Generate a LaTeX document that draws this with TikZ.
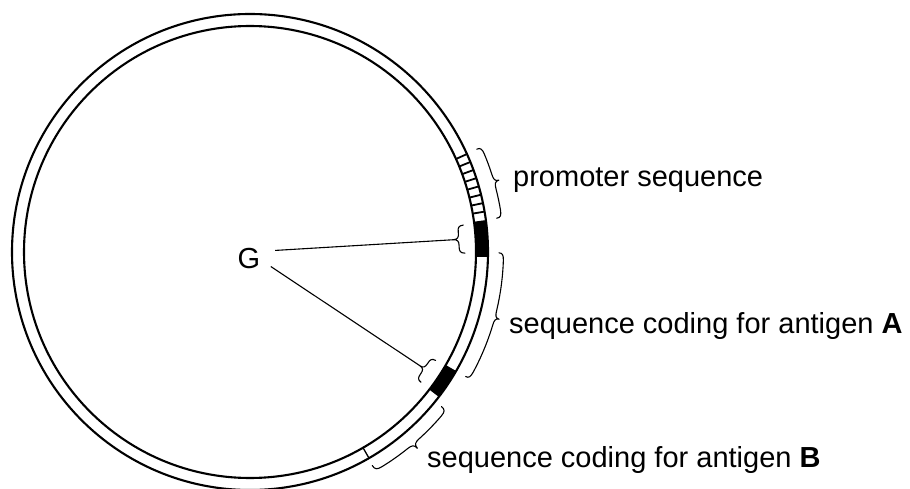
\documentclass[tikz,border=0pt]{standalone}
\usepackage{fontspec}
\setmainfont{Liberation Sans}
\newcommand\arcbrace[5]{%
  \pgfmathsetmacro\brA{#1}%
  \pgfmathsetmacro\brB{#2}%
  \pgfmathsetmacro\brM{(#1+#2)/2}%
  \pgfmathsetmacro\brD{((#2)>(#1) ? 1.7 : -1.7)}%
  \pgfmathsetmacro\brR{#3}%
  \pgfmathsetmacro\brH{#3+(#4)}%
  \pgfmathsetmacro\brT{#3+2*(#4)}%
  \pgfmathsetmacro\brQ{#3+0.8*(#4)}%
  \pgfmathsetmacro\brS{#3+1.2*(#4)}%
  \draw[bracestyle] (\brA:\brR) .. controls (\brA:\brQ) and ({\brA+0.3*\brD}:\brH) .. ({\brA+\brD}:\brH)
    arc[start angle={\brA+\brD}, end angle={\brM-\brD}, radius=\brH]
    .. controls ({\brM-0.3*\brD}:\brH) and (\brM:\brS) .. (\brM:\brT)
    .. controls (\brM:\brS) and ({\brM+0.3*\brD}:\brH) .. ({\brM+\brD}:\brH)
    arc[start angle={\brM+\brD}, end angle={\brB-\brD}, radius=\brH]
    .. controls ({\brB-0.3*\brD}:\brH) and (\brB:\brQ) .. (\brB:\brR);
  \coordinate (#5) at (\brM:\brT);
}
\begin{document}
\begin{tikzpicture}[x=1pt,y=1pt,
  ring/.style={line width=2.1pt},
  rung/.style={line width=1.8pt},
  bracestyle/.style={line width=1.1pt, line cap=round, line join=round},
  pointer/.style={line width=1.1pt},
  lbl/.style={font=\fontsize{29}{34}\selectfont, inner sep=0pt}]
\useasboundingbox (0,0) rectangle (910,-489);
\begin{scope}[shift={(250,-252)}]
  % black segments
  \fill (7.7:226) arc[start angle=7.7, end angle=-1.2, radius=226]
        -- (-1.2:238) arc[start angle=-1.2, end angle=7.7, radius=238] -- cycle;
  \fill (-30:226) arc[start angle=-30, end angle=-37.5, radius=226]
        -- (-37.5:238) arc[start angle=-37.5, end angle=-30, radius=238] -- cycle;
  % promoter hatching
  \foreach \k in {0,...,7} {
    \draw[rung] ({24.3-2.075*\k}:226) -- ({24.3-2.075*\k}:238);
  }
  % rings
  \draw[ring] (0,0) circle (238);
  \draw[ring] (0,0) circle (226);
  % boundary tick
  \draw[line width=1.3pt] (-60:226) -- (-60:238);
  % braces
  \arcbrace{24.4}{7.8}{249}{5}{tprom}
  \arcbrace{-0.2}{-30}{249}{4.5}{tA}
  \arcbrace{-38.9}{-60.2}{246}{6}{tB}
  \arcbrace{7.2}{-0.3}{215}{-5.8}{gt1}
  \arcbrace{-30.3}{-37.3}{215}{-5.3}{gt2}
\end{scope}
\node[lbl, circle, minimum size=52pt, text height=33pt, text depth=0pt] (G) at (249,-252) {G};
\draw[pointer] (G) -- (gt1);
\draw[pointer] (G) -- (gt2);
\node[lbl, anchor=base west] (prom) at (513,-187) {promoter sequence};
\node[lbl, anchor=base west] (labA) at (509,-333) {sequence coding for antigen \textbf{A}};
\node[lbl, anchor=base west] (labB) at (427,-467) {sequence coding for antigen \textbf{B}};
\end{tikzpicture}
\end{document}
